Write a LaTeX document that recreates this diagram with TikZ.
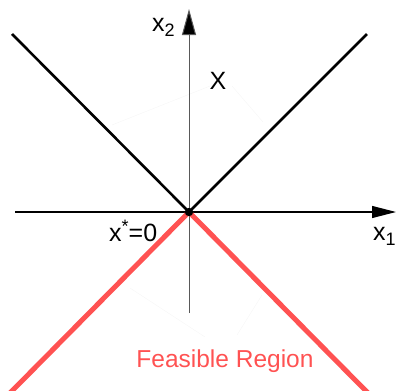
\documentclass[tikz,border=0pt]{standalone}
\usepackage{fontspec}
\setmainfont{Liberation Sans}
\usetikzlibrary{arrows.meta}
\definecolor{feas}{RGB}{255,82,82}
\newcommand\mysub[1]{\raisebox{-5pt}{\fontsize{18}{18}\selectfont #1}}
\newcommand\mysup[1]{\raisebox{9pt}{\fontsize{18}{18}\selectfont #1}}
\begin{document}
\begin{tikzpicture}[x=1pt,y=-1pt,
  lbl/.style={font=\fontsize{25}{28}\selectfont, inner sep=0pt},
  boundary/.style={line width=2.6pt, black},
  feasline/.style={line width=5pt, feas},
  leader/.style={line width=0.5pt, black!3}]
\useasboundingbox (0,0) rectangle (400,391);
% coordinates
\coordinate (O) at (189,212);
\coordinate (xl) at (15,212);
\coordinate (xr) at (396,212);
\coordinate (yb) at (189,313);
\coordinate (yt) at (189,9);
\coordinate (bl) at (12,34);
\coordinate (br) at (367,34);
\coordinate (fl) at (10,393);
\coordinate (fr) at (368,393);
% faint leader lines
\coordinate (a1) at (112,125); \coordinate (a2) at (210,86);
\coordinate (a3) at (232,86);  \coordinate (a4) at (263,122);
\coordinate (b1) at (130,288); \coordinate (b2) at (205,337);
\coordinate (b3) at (237,335); \coordinate (b4) at (262,295);
\draw[leader] (a1) -- (a2);
\draw[leader] (a3) -- (a4);
\draw[leader] (b1) -- (b2);
\draw[leader] (b3) -- (b4);
% axes
\draw[line width=1.1pt, -{Triangle[length=24pt,width=12pt]}] (xl) -- (xr);
\draw[line width=1pt, black!65, -{Triangle[length=26pt,width=14pt,fill=black]}] (yb) -- (yt);
% feasible region boundary
\draw[feasline] (fl) -- (O) -- (fr);
% set X boundary
\draw[boundary, line join=miter] (bl) -- (O) -- (br);
\fill (O) circle (4.2pt);
% labels
\node[lbl, anchor=base west] (lx2) at (152,31) {x\mysub{2}};
\node[lbl, anchor=base west] (lx1) at (373,240) {x\mysub{1}};
\node[lbl, anchor=base] (lX) at (218,89) {X};
\node[lbl, anchor=base west] (lxs) at (109,241) {x\mysup{*}=0};
\node[lbl, anchor=base, text=feas, font=\fontsize{24.5}{27}\selectfont] (lf) at (225,367) {Feasible Region};
\end{tikzpicture}
\end{document}
